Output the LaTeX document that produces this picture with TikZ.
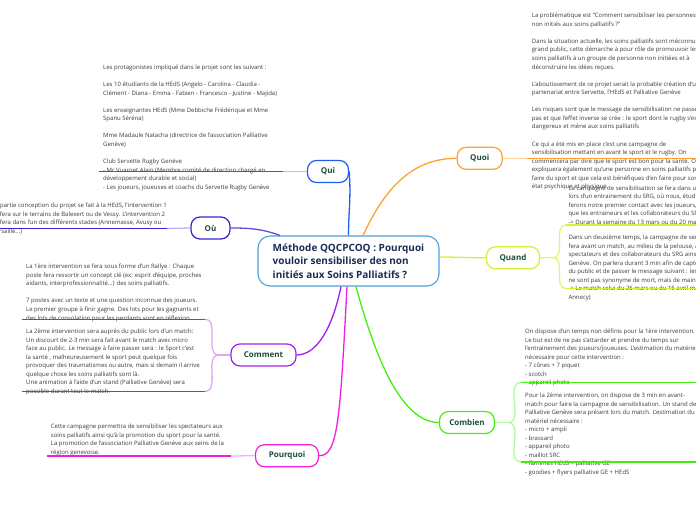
\documentclass[tikz,border=0pt]{standalone}
\usepackage{fontspec}
\setmainfont{Open Sans}
\usetikzlibrary{positioning, calc}
\definecolor{racineBleu}{HTML}{4AA0DC}
\definecolor{titreNavy}{HTML}{1B2D55}
\definecolor{etiquette}{HTML}{1A4D3C}
\definecolor{texteGris}{HTML}{3A3A3A}
\definecolor{bleu}{HTML}{1F5FF0}
\definecolor{bleuClair}{HTML}{A8C4FA}
\definecolor{indigo}{HTML}{3A22D0}
\definecolor{indigoClair}{HTML}{BBB0F4}
\definecolor{violet}{HTML}{A020F0}
\definecolor{violetClair}{HTML}{DBA8F8}
\definecolor{magenta}{HTML}{F01EE0}
\definecolor{magentaClair}{HTML}{F9B0F2}
\definecolor{orange}{HTML}{FFA030}
\definecolor{orangeClair}{HTML}{FFD49A}
\definecolor{jaune}{HTML}{D4F030}
\definecolor{jauneClair}{HTML}{EEF8A0}
\definecolor{vert}{HTML}{44EE11}
\definecolor{vertClair}{HTML}{B0F8A0}
\tikzset{
  racine/.style={rectangle, rounded corners=12pt, draw=racineBleu, fill=white,
                 line width=1.1pt, minimum width=181pt, minimum height=50pt,
                 align=left, text=titreNavy, font=\fontsize{10}{13.3}\selectfont\bfseries},
  branche/.style={rectangle, rounded corners=9pt, fill=white, line width=1.2pt,
                  minimum height=22pt, inner sep=0pt, text=etiquette,
                  font=\fontsize{8}{9.6}\selectfont\bfseries},
  texte/.style={anchor=north west, inner sep=0pt, align=left, text=texteGris,
                font=\fontsize{6}{8.55}\selectfont},
  lien/.style={line width=1.3pt},
  trait/.style={line width=1.6pt}
}

\begin{document}
\begin{tikzpicture}[x=1pt, y=-1pt]
  \useasboundingbox (0,0) rectangle (696,520);

  % textes
  \node[texte] (quiTxt) at (103,63.3) {\strut Les protagonistes impliqué dans le projet sont les suivant :\\[8.55pt]
    Les 10 étudiants de la HEdS (Angelo - Carolina - Claudia -\\
    Clément - Diana - Emma - Fabien - Francesco - Justine - Majida)\\[8.55pt]
    Les enseignantes HEdS (Mme Debbiche Frédérique et Mme\\
    Spanu Séréna)\\[8.55pt]
    Mme Madaule Natacha (directrice de l'association Palliative\\
    Genève)\\[8.55pt]
    Club Servette Rugby Genève\\
    - Mr Vuarnet Alain (Membre comité de direction chargé en\\
    développement durable et social)\\
    - Les joueurs, joueuses et coachs du Servette Rugby Genève};
  \node[texte] (ouTxt) at (-8.1,201.6) {\strut La partie conception du projet se fait à la HEdS, l'intervention 1\\
    se fera sur le terrains de Balexert ou de Vessy. L'intervention 2\\
    se fera dans l'un des différents stades (Annemasse, Avusy ou\\
    Versaille...)};
  \node[texte] (comTxtA) at (26,262.6) {\strut La 1ère intervention se fera sous forme d'un Rallye : Chaque\\
    poste fera ressortir un concept clé (ex: esprit d'équipe, proches\\
    aidants, interprofessionnalité...) des soins palliatifs.\\[8.55pt]
    7 postes avec un texte et une question inconnue des joueurs.\\
    Le premier groupe à finir gagne. Des lots pour les gagnants et\\
    des lots de consolation pour les perdants sont en réflexion.};
  \node[texte] (comTxtB) at (26,327.3) {\strut La 2ème intervention sera auprès du public lors d'un match:\\
    Un discourt de 2-3 min sera fait avant le match avec micro\\
    face au public.  Le message à faire passer  sera : le Sport c'est\\
    la santé , malheureusement le sport peut quelque fois\\
    provoquer des traumatismes ou autre, mais si demain il arrive\\
    quelque chose les soins palliatifs sont là.\\
    Une animation à l'aide d'un stand (Palliative Genève) sera\\
    possible durant tout le match.};
  \node[texte] (pqTxt) at (50.7,422.6) {\strut Cette campagne permettra de sensibiliser les spectateurs aux\\
    soins palliatifs ainsi qu'à la promotion du sport pour la santé.\\
    La promotion de l'association Palliative Genève aux seins de la\\
    région genevoise.};
  \node[texte] (quoiTxt) at (531.7,11.6) {\strut La problématique est "Comment sensibiliser les personnes\\
    non initiés aux soins palliatifs ?"\\[8.55pt]
    Dans la situation actuelle, les soins palliatifs sont méconnus du\\
    grand public, cette démarche à pour rôle de promouvoir les\\
    soins palliatifs à un groupe de personne non initiées et à\\
    déconstruire les idées reçues.\\[8.55pt]
    L'aboutissement de ce projet serait la probable création d'un\\
    partenariat entre Servette, l'HEdS et Palliative Genève\\[8.55pt]
    Les risques sont que le message de sensibilisation ne passe\\
    pas et que l'effet inverse se crée : le sport dont le rugby s'est\\
    dangereux et mène aux soins palliatifs\\[8.55pt]
    Ce qui a été mis en place c'est une campagne de\\
    sensibilisation mettant en avant le sport et le rugby. On\\
    commencera par dire que le sport est bon pour la santé. On\\
    expliquera également qu'une personne en soins palliatifs peut\\
    faire du sport et que cela est bénéfiques d'en faire pour son\\
    état psychique et physique.};
  \node[texte] (quandTxtA) at (568.3,183.9) {\strut La campagne de sensibilisation se fera dans un premier temps\\
    lors d'un entrainement du SRG, où nous, étudiants,\\
    ferons notre premier contact avec les joueurs, joueuses ainsi\\
    que les entraineurs et les collaborateurs du SRG.\\
    -> Durant la semaine du 13 mars ou du 20 mars};
  \node[texte] (quandTxtB) at (568.3,233.3) {\strut Dans un deuxième temps, la campagne de sensibilisation se\\
    fera avant un match, au milieu de la pelouse, auprès des\\
    spectateurs et des collaborateurs du SRG ainsi que Palliative\\
    Genève. On parlera durant 3 min afin de capter l'attention\\
    du public et de passer le message suivant : les soins palliatifs\\
    ne sont pas synonyme de mort, mais de maintien de la qualité\\
    -> Le match celui du 26 mars ou du 16 avril match (contre\\
    Annecy)};
  \node[texte] (cbTxtA) at (525,327.3) {\strut On dispose d'un temps non définis pour la 1ère intervention.\\
    Le but est de ne pas s'attarder et prendre du temps sur\\
    l'entrainement des joueurs/joueuses. L'estimation du matériel\\
    nécessaire pour cette intervention :\\
    - 7 cônes + 7 piquet\\
    - scotch\\
    - appareil photo};
  \node[texte] (cbTxtB) at (525,391.3) {\strut Pour la 2ème intervention, on dispose de 3 min en avant-\\
    match pour faire la campagne de sensibilisation. Un stand de\\
    Palliative Genève sera présent lors du match.  L'estimation du\\
    matériel nécessaire :\\
    - micro + ampli\\
    - brassard\\
    - appareil photo\\
    - maillot SRC\\
    - flammes HEdS + palliative GE\\
    - goodies + flyers palliative GE + HEdS};

  % noeuds
  \node[racine] (root) at (348.5,261) {Méthode QQCPCOQ : Pourquoi\\vouloir sensibiliser des non\\initiés aux Soins Palliatifs ?};
  \node[branche, draw=bleu, minimum width=41pt] (qui) at (328,171.5) {Qui};
  \node[branche, draw=indigo, minimum width=39pt] (ou) at (210.5,228) {Où};
  \node[branche, draw=violet, minimum width=65pt] (comment) at (263.5,355) {Comment};
  \node[branche, draw=magenta, minimum width=63pt] (pourquoi) at (287,455.7) {Pourquoi};
  \node[branche, draw=orange, minimum width=45pt] (quoi) at (479.7,158.3) {Quoi};
  \node[branche, draw=jaune, minimum width=53pt] (quand) at (513,257.8) {Quand};
  \node[branche, draw=vert, minimum width=55pt] (combien) at (467,422.5) {Combien};

  % points d'attache
  \coordinate (rOu) at ([xshift=-68.5pt]root.north);
  \coordinate (rQuoi) at ([xshift=14.5pt]root.north);
  \coordinate (rQuand) at ([yshift=4pt]root.east);
  \coordinate (rCom) at ([xshift=-7.5pt]root.south);
  \coordinate (rPq) at ([xshift=-1.5pt]root.south);
  \coordinate (rCb) at ([xshift=7.5pt]root.south);
  \coordinate (quiA) at (283,171.5);   \coordinate (quiB) at (99,171.5);
  \coordinate (ouA) at (167,228.5);    \coordinate (ouB) at (-5,228.5);
  \coordinate (comJ) at (219,355);
  \coordinate (comA) at (205,319.3);   \coordinate (comA2) at (22,319.3);
  \coordinate (comB) at (205,391.3);   \coordinate (comB2) at (22,391.3);
  \coordinate (pqA) at (231,456);      \coordinate (pqB) at (47,456);
  \coordinate (quoiA) at (527,158.3);  \coordinate (quoiB) at (700,158.3);
  \coordinate (quandJ) at (553,257.5);
  \coordinate (quandA) at (566,225);   \coordinate (quandA2) at (700,225);
  \coordinate (quandB) at (566,288.5); \coordinate (quandB2) at (700,288.5);
  \coordinate (cbJ) at (508,422.5);
  \coordinate (cbA) at (521,382.5);    \coordinate (cbA2) at (700,382.5);
  \coordinate (cbB) at (521,461.7);    \coordinate (cbB2) at (700,461.7);

  % liens du centre
  \draw[lien, bleu] (root.north) to[out=90, in=-85] (qui.east);
  \draw[lien, indigo!70!indigoClair] (rOu) to[out=160, in=0] (ou.east);
  \draw[lien, orange] (rQuoi) to[out=65, in=180] (quoi.west);
  \draw[lien, jaune] (rQuand) to[out=0, in=180] (quand.west);
  \draw[lien, violet] (rCom) .. controls (332,330) and (316,355) .. (comment.east);
  \draw[lien, magenta] (rPq) .. controls (340,420) and (338,456) .. (pourquoi.east);
  \draw[lien, vert] (rCb) .. controls (376,360) and (402,422.5) .. (combien.west);

  % liens vers les textes
  \draw[lien, bleuClair] (qui.west) -- (quiA);
  \draw[trait, bleu] (quiA) -- (quiB);
  \draw[lien, indigoClair] (ou.west) -- (ouA);
  \draw[trait, indigo] (ouA) -- (ouB);
  \draw[lien, violetClair] (comment.west) -- (comJ);
  \draw[lien, violetClair] (comJ) to[out=180, in=0] (comA);
  \draw[lien, violetClair] (comJ) to[out=180, in=0] (comB);
  \draw[trait, violet] (comA) -- (comA2);
  \draw[trait, violet] (comB) -- (comB2);
  \draw[lien, magentaClair] (pourquoi.west) -- (pqA);
  \draw[trait, magenta] (pqA) -- (pqB);
  \draw[lien, orangeClair] (quoi.east) -- (quoiA);
  \draw[trait, orange] (quoiA) -- (quoiB);
  \draw[lien, jauneClair!60!jaune] (quand.east) -- (quandJ);
  \draw[lien, jauneClair!60!jaune] (quandJ) to[out=0, in=180] (quandA);
  \draw[lien, jauneClair!60!jaune] (quandJ) to[out=0, in=180] (quandB);
  \draw[trait, jaune] (quandA) -- (quandA2);
  \draw[trait, jaune] (quandB) -- (quandB2);
  \draw[lien, vertClair] (combien.east) -- (cbJ);
  \draw[lien, vertClair] (cbJ) to[out=0, in=180] (cbA);
  \draw[lien, vertClair] (cbJ) to[out=0, in=180] (cbB);
  \draw[trait, vert] (cbA) -- (cbA2);
  \draw[trait, vert] (cbB) -- (cbB2);
\end{tikzpicture}
\end{document}
